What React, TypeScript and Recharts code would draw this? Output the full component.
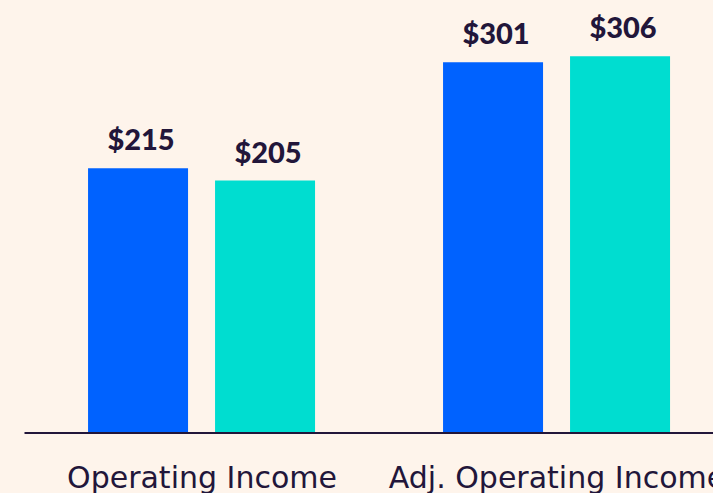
import { BarChart, Bar, XAxis, YAxis, LabelList } from 'recharts'

const categories = ['Operating Income', 'Adj. Operating Income']
const seriesA = [215, 301]
const seriesB = [205, 306]

const data = categories.map((name, i) => ({ name, a: seriesA[i], b: seriesB[i] }))

const INK = '#22163a'
const fmt = (v: any) => `$${v}`

const CategoryTick = ({ x, y, payload }: any) => (
  <text x={x} y={y + 55} textAnchor="middle" fill={INK}
    style={{ fontFamily: 'DejaVu Sans', fontSize: 30 }}>
    {payload.value}
  </text>
)

const labelStyle = { fill: INK, fontFamily: 'Lato', fontWeight: 900, fontSize: 29 }

export default function App() {
  return (
    <div style={{ position: 'absolute', left: 0, top: 0, width: 713, height: 493, overflow: 'hidden', background: '#fef4eb' }}>
      <BarChart width={760} height={493} data={data} barGap={27} barCategoryGap="17.9%"
        margin={{ top: 2, right: 25.5, bottom: 0, left: 24.5 }}>
        <XAxis dataKey="name" height={60} tickLine={false} tickSize={0} tickMargin={0}
          axisLine={{ stroke: INK, strokeWidth: 2 }} tick={CategoryTick} interval={0} />
        <YAxis hide domain={[0, 350]} />
        <Bar dataKey="a" fill="#0062ff" isAnimationActive={false}>
          <LabelList dataKey="a" position="top" offset={18} dx={3} formatter={fmt} style={labelStyle} />
        </Bar>
        <Bar dataKey="b" fill="#00ddd0" isAnimationActive={false}>
          <LabelList dataKey="b" position="top" offset={18} dx={3} formatter={fmt} style={labelStyle} />
        </Bar>
      </BarChart>
    </div>
  )
}
